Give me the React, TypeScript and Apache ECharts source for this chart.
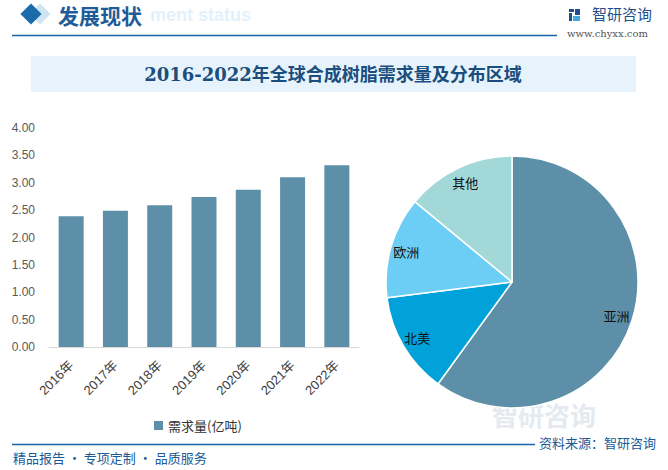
import React, { useEffect, useRef } from "react";
import * as echarts from "echarts";

const years = ["2016年", "2017年", "2018年", "2019年", "2020年", "2021年", "2022年"];
const demand = [2.39, 2.49, 2.59, 2.74, 2.87, 3.1, 3.32];
const regions = ["亚洲", "北美", "欧洲", "其他"];
const shares = [60, 13, 13, 14];
const pieColors = ["#5D90A8", "#00A2D9", "#6DCEF5", "#A3D8D8"];
const seriesName = "需求量(亿吨)";
const title = "2016-2022年全球合成树脂需求量及分布区域";

export default function App() {
  const ref = useRef<HTMLDivElement>(null);
  useEffect(() => {
    if (!ref.current) return;
    const chart = echarts.init(ref.current, null, { renderer: "svg" });
    const pieData = regions.map((n, i) => ({ name: n, value: shares[i], itemStyle: { color: pieColors[i] } }));
    chart.setOption({
      animation: false,
      backgroundColor: "#ffffff",
      textStyle: { fontFamily: "'Liberation Sans', 'Noto Sans CJK SC', sans-serif" },
      graphic: [
        { type: "text", left: 150, top: 6, silent: true, style: { text: "ment status", fill: "#E3F1FA", font: "bold 18px 'Liberation Sans', Arial, sans-serif" } },
        { type: "rect", x: 40, y: 14, rotation: Math.PI / 4, shape: { x: -7.5, y: -7.5, width: 15, height: 15 }, style: { fill: "#CFE5F3" } },
        { type: "rect", x: 31, y: 14, rotation: Math.PI / 4, shape: { x: -7.5, y: -7.5, width: 15, height: 15 }, style: { fill: "#1B6AAA" } },
        { type: "text", x: 58, y: 15, style: { text: "发展现状", fill: "#1F5C99", font: "bold 21px 'Noto Sans CJK SC', sans-serif", verticalAlign: "middle", align: "left" } },
        { type: "line", shape: { x1: 12, y1: 35.5, x2: 557, y2: 35.5 }, style: { stroke: "#1A66A6", lineWidth: 1.5 } },
        { type: "rect", shape: { x: 569, y: 9, width: 5, height: 3 }, style: { fill: "#1F4E8C" } },
        { type: "rect", shape: { x: 569, y: 13, width: 3, height: 8 }, style: { fill: "#1F4E8C" } },
        { type: "rect", shape: { x: 575, y: 9, width: 5, height: 6 }, style: { fill: "#1F4E8C" } },
        { type: "rect", shape: { x: 573, y: 16, width: 7, height: 5 }, style: { fill: "#3FA9E0" } },
        { type: "text", left: 592, top: 6, style: { text: "智研咨询", fill: "#1F4E8C", font: "15px 'Noto Sans CJK SC', sans-serif" } },
        { type: "text", left: 567, top: 28, style: { text: "www.chyxx.com", fill: "#555555", font: "10px 'DejaVu Serif', serif" } },
        { type: "rect", shape: { x: 31, y: 56, width: 605, height: 36 }, style: { fill: "#E6F3FC" } },
        { type: "text", x: 333, y: 74, style: { text: title, fill: "#1B4E7C", font: "bold 18px 'DejaVu Serif', 'Noto Sans CJK SC', serif", align: "center", verticalAlign: "middle" } },
        { type: "text", left: 492, top: 401, silent: true, style: { text: "智研咨询", fill: "#E4EAF0", font: "bold 26px 'Noto Sans CJK SC', sans-serif" } },
        { type: "line", shape: { x1: 12, y1: 444.5, x2: 535, y2: 444.5 }, style: { stroke: "#1A66A6", lineWidth: 1.5 } },
        { type: "text", left: 539, top: 436, style: { text: "资料来源：智研咨询", fill: "#1A5A96", font: "13px 'Noto Sans CJK SC', sans-serif" } },
        { type: "text", left: 13, top: 451, style: { text: "精品报告 · 专项定制 · 品质服务", fill: "#1A5A96", font: "13px 'Noto Sans CJK SC', sans-serif" } }
      ],
      legend: {
        data: [{ name: seriesName, icon: "rect" }],
        left: 149,
        top: 414,
        itemWidth: 9,
        itemHeight: 9,
        itemGap: 4,
        textStyle: { color: "#333333", fontSize: 13, fontFamily: "'Noto Sans CJK SC', sans-serif" }
      },
      grid: { left: 49, right: 309, top: 128, bottom: 123, containLabel: false },
      xAxis: {
        type: "category",
        data: years,
        axisLine: { lineStyle: { color: "#D9D9D9" } },
        axisTick: { show: false },
        axisLabel: { rotate: 45, color: "#404040", fontSize: 13, margin: 16, interval: 0 }
      },
      yAxis: {
        type: "value",
        min: 0,
        max: 4,
        interval: 0.5,
        axisLine: { show: false },
        axisTick: { show: false },
        splitLine: { show: false },
        axisLabel: { color: "#595959", fontSize: 12, margin: 14, formatter: (v: number) => v.toFixed(2) }
      },
      series: [
        {
          name: seriesName,
          type: "bar",
          data: demand,
          barWidth: 25,
          itemStyle: { color: "#5D90A8" }
        },
        {
          type: "pie",
          center: [512, 282],
          radius: 126,
          startAngle: 90,
          clockwise: true,
          data: pieData,
          label: { show: false },
          labelLine: { show: false },
          itemStyle: { borderColor: "#ffffff", borderWidth: 1.5 },
          emphasis: { disabled: true }
        },
        {
          type: "pie",
          center: [512, 282],
          radius: [88, 126],
          startAngle: 90,
          clockwise: true,
          silent: true,
          data: pieData.map((d) => ({ name: d.name, value: d.value, itemStyle: { color: "transparent" } })),
          label: { show: true, position: "inside", color: "#111111", fontSize: 13, fontFamily: "'Noto Sans CJK SC', sans-serif", formatter: "{b}" },
          labelLine: { show: false },
          itemStyle: { borderWidth: 0 },
          emphasis: { disabled: true }
        }
      ]
    });
    return () => chart.dispose();
  }, []);
  return <div ref={ref} style={{ position: "fixed", left: 0, top: 0, width: 668, height: 470 }} />;
}
